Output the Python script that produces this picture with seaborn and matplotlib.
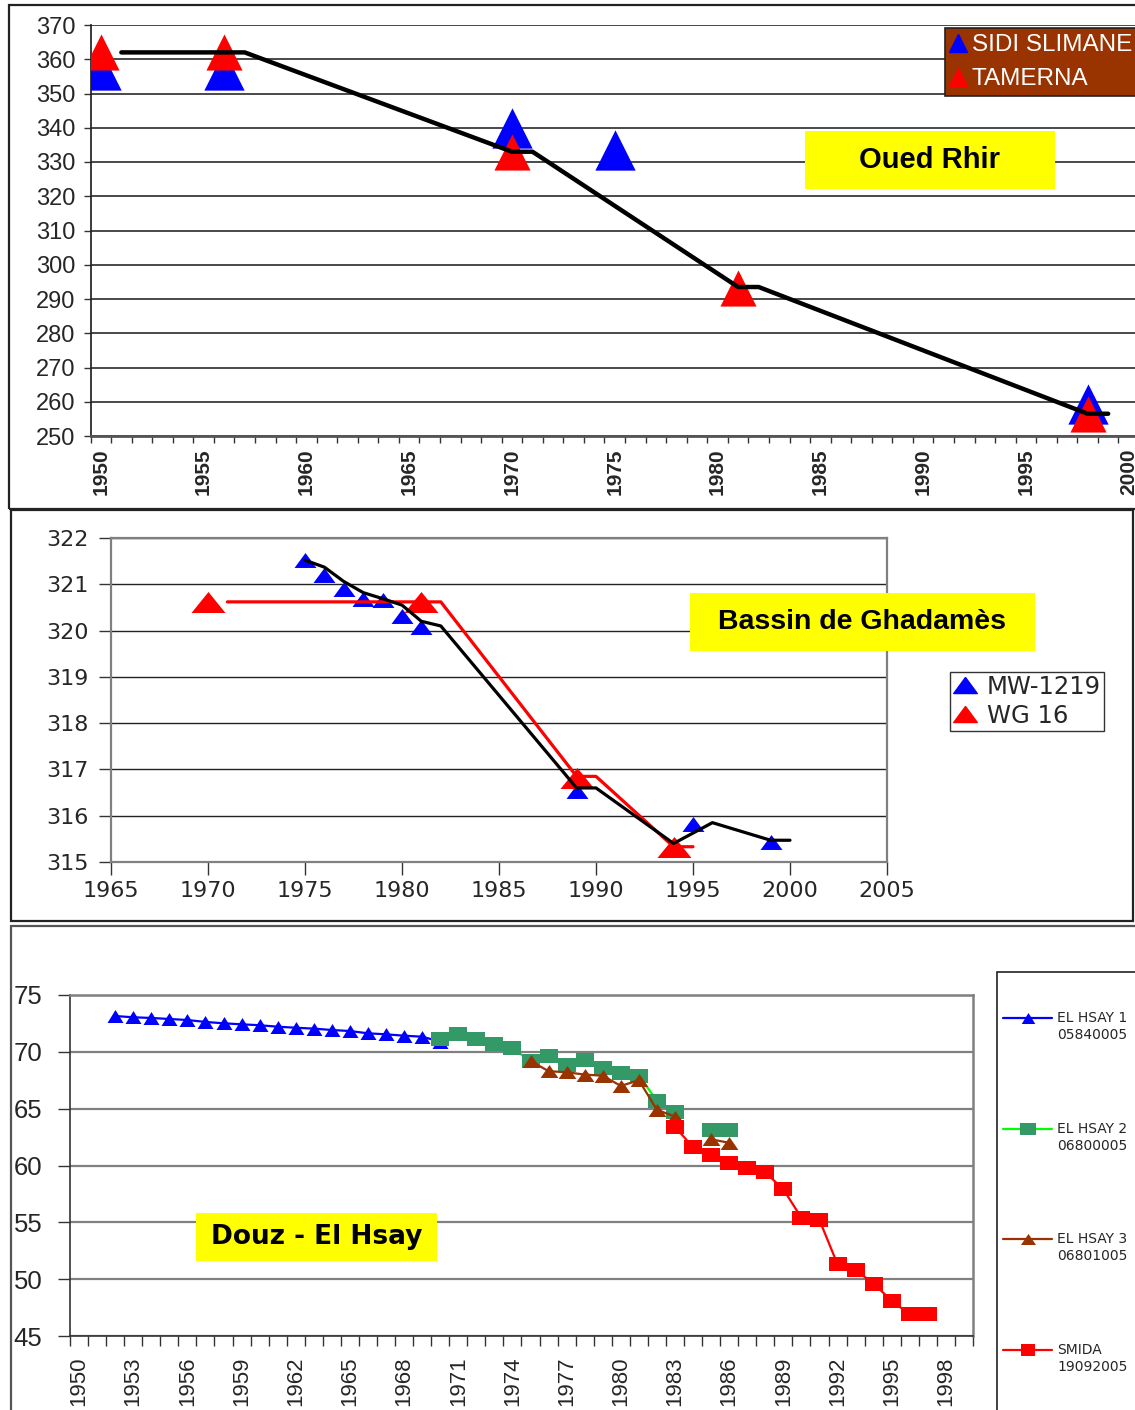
import numpy as np
import pandas as pd
import matplotlib
matplotlib.use("Agg")
import matplotlib.pyplot as plt
import seaborn as sns
from matplotlib.patches import Rectangle
from matplotlib.lines import Line2D
from matplotlib.ticker import FixedLocator, MultipleLocator

sns.set_theme(style="white")
plt.rcParams['font.family'] = ['Liberation Sans', 'DejaVu Sans']

# ---------------- Oued Rhir ----------------
rhir_sidi_years = [1950, 1956, 1970, 1975, 1998]
rhir_sidi_level = [357.0, 357.0, 339.9, 333.5, 259.3]
rhir_tam_years = [1950, 1956, 1970, 1981, 1998]
rhir_tam_level = [362.0, 362.0, 333.0, 293.2, 256.4]
rhir_trend_years = [1951, 1957, 1970, 1971, 1981, 1982, 1998, 1999]
rhir_trend_level = [362.0, 362.0, 333.0, 333.0, 293.5, 293.5, 256.5, 256.5]

# ---------------- Bassin de Ghadames ----------------
mw_years = [1975, 1976, 1977, 1978, 1979, 1980, 1981, 1989, 1995, 1999]
mw_level = [321.52, 321.19, 320.90, 320.68, 320.66, 320.32, 320.07, 316.54, 315.83, 315.43]
wg_years = [1970, 1981, 1989, 1994]
wg_level = [320.61, 320.61, 316.81, 315.33]
wg_trend_years = [1971, 1982, 1989, 1990, 1994, 1995]
wg_trend_level = [320.62, 320.62, 316.85, 316.85, 315.33, 315.33]
mw_trend_years = [1975, 1976, 1977, 1978, 1979, 1980, 1981, 1982, 1989, 1990, 1994, 1996, 1999, 2000]
mw_trend_level = [321.52, 321.37, 321.06, 320.82, 320.69, 320.55, 320.20, 320.10,
                  316.60, 316.60, 315.40, 315.85, 315.47, 315.47]

# ---------------- Douz - El Hsay ----------------
hsay1_years = list(range(1952, 1971))
hsay1_level = [73.15, 73.04, 72.98, 72.89, 72.80, 72.63, 72.51, 72.42, 72.34, 72.21,
               72.12, 72.04, 71.92, 71.83, 71.63, 71.54, 71.42, 71.33, 70.9]
hsay2_years = list(range(1970, 1987))
hsay2_level = [71.13, 71.6, 71.16, 70.7, 70.3, 69.2, 69.6, 68.8, 69.3, 68.6,
               68.1, 67.9, 65.7, 64.7, np.nan, 63.1, 63.1]
hsay3_years = list(range(1975, 1987))
hsay3_level = [69.2, 68.3, 68.2, 68.0, 67.9, 67.0, 67.5, 64.9, 64.3, np.nan, 62.3, 62.0]
smida_years = list(range(1983, 1998))
smida_level = [63.4, 61.6, 60.9, 60.2, 59.8, 59.4, 57.9, 55.4, 55.2, 51.3,
               50.8, 49.6, 48.1, 46.9, 46.9]

hsay_names = ["EL HSAY 1", "EL HSAY 2", "EL HSAY 3", "SMIDA"]
hsay_codes = ["05840005", "06800005", "06801005", "19092005"]

W, H = 1135, 1410
fig = plt.figure(figsize=(W / 100, H / 100), dpi=100)
fig.patch.set_facecolor("white")


def fbox(x0, y0, x1, y1):
    """Convert pixel box (top-left origin) to figure fraction [l, b, w, h]."""
    return [x0 / W, 1 - y1 / H, (x1 - x0) / W, (y1 - y0) / H]


def frame(x0, y0, x1, y1, color="#222222", lw=1.6):
    l, b, w, h = fbox(x0, y0, x1, y1)
    fig.patches.append(Rectangle((l, b), w, h, transform=fig.transFigure,
                                 fill=False, edgecolor=color, linewidth=lw, zorder=0))


def label_box(x0, y0, x1, y1, text, size, family=None):
    """Yellow title box with bold text centred in it."""
    l, b, w, h = fbox(x0, y0, x1, y1)
    fig.patches.append(Rectangle((l, b), w, h, transform=fig.transFigure,
                                 facecolor="#FFFF00", edgecolor="none", zorder=1))
    kw = {"family": family} if family else {}
    fig.text(l + w / 2, b + h / 2, text, ha="center", va="center", fontsize=size,
             fontweight="bold", color="black", zorder=2, **kw)


def series_df(years, values):
    df = pd.DataFrame({"year": years, "level": values})
    df["seg"] = df["level"].isna().cumsum()
    return df.dropna()


def tri_wide(r):
    return [(0, 1), (-r, -1), (r, -1), (0, 1)]


def rect_wide(r):
    return [(-r, -1), (r, -1), (r, 1), (-r, 1), (-r, -1)]


# panel frames
frame(9, 5, 1160, 509)
frame(11, 510, 1133, 921)
frame(11, 926, 1160, 1430, color="#555555")

# =============== Panel 1 : Oued Rhir ===============
ax1 = fig.add_axes(fbox(90.5, 25, 1139, 436))
df_sidi = pd.DataFrame({"year": rhir_sidi_years, "level": rhir_sidi_level})
df_tam = pd.DataFrame({"year": rhir_tam_years, "level": rhir_tam_level})
df_tr = pd.DataFrame({"year": rhir_trend_years, "level": rhir_trend_level})
sns.scatterplot(data=df_sidi, x="year", y="level", marker="^", color="#0000FF",
                s=29 ** 2, linewidth=0, ax=ax1, zorder=3, legend=False)
sns.scatterplot(data=df_tam, x="year", y="level", marker="^", color="#FF0000",
                s=26 ** 2, linewidth=0, ax=ax1, zorder=4, legend=False)
sns.lineplot(data=df_tr, x="year", y="level", color="black", linewidth=3.2,
             sort=False, estimator=None, ax=ax1, zorder=5)
ax1.set_xlim(1949.5, 2000.5)
ax1.set_ylim(250, 370)
ax1.yaxis.set_major_locator(MultipleLocator(10))
ax1.xaxis.set_major_locator(FixedLocator(list(range(1950, 2001, 5))))
ax1.xaxis.set_minor_locator(FixedLocator(list(np.arange(1949.5, 2001, 1.0))))
ax1.grid(axis="y", color="#3a3a3a", linewidth=1.3)
ax1.set_axisbelow(True)
for s in ["top", "right"]:
    ax1.spines[s].set_visible(False)
ax1.spines["left"].set_color("#222222")
ax1.spines["bottom"].set_color("#555555")
ax1.spines["bottom"].set_linewidth(2)
ax1.tick_params(axis="y", which="major", left=True, length=5, width=1, color="#333333",
                labelsize=17, pad=6)
ax1.tick_params(axis="x", which="major", bottom=False, labelsize=15, pad=3,
                labelrotation=90)
ax1.tick_params(axis="x", which="minor", bottom=True, length=5, width=1, color="#333333")
for t in ax1.get_xticklabels():
    t.set_fontweight("bold")
ax1.set_xlabel("")
ax1.set_ylabel("")
h_sidi = Line2D([], [], marker="^", color="#0000FF", linestyle="None", markersize=13)
h_tam = Line2D([], [], marker="^", color="#FF0000", linestyle="None", markersize=13)
leg1 = ax1.legend([h_sidi, h_tam], ["SIDI SLIMANE", "TAMERNA"], loc="upper left",
                  bbox_to_anchor=(945 / W, 1 - 28 / H), bbox_transform=fig.transFigure,
                  fontsize=17.5, frameon=True, fancybox=False, facecolor="#993300",
                  edgecolor="#222222", framealpha=1, labelcolor="white",
                  handlelength=0.6, handletextpad=0.25, borderpad=0.25,
                  labelspacing=0.5, borderaxespad=0)
leg1.get_frame().set_linewidth(1.2)
label_box(805, 131, 1055, 189, "Oued Rhir", 21)

# =============== Panel 2 : Bassin de Ghadames ===============
ax2 = fig.add_axes(fbox(111, 538, 887, 862))
df_mw = pd.DataFrame({"year": mw_years, "level": mw_level})
df_wg = pd.DataFrame({"year": wg_years, "level": wg_level})
df_wgt = pd.DataFrame({"year": wg_trend_years, "level": wg_trend_level})
df_mwt = pd.DataFrame({"year": mw_trend_years, "level": mw_trend_level})
sns.scatterplot(data=df_mw, x="year", y="level", marker=tri_wide(1.47), color="#0000FF",
                s=15.8 ** 2, linewidth=0, ax=ax2, zorder=3, legend=False)
sns.scatterplot(data=df_wg, x="year", y="level", marker=tri_wide(1.62), color="#FF0000",
                s=24.5 ** 2, linewidth=0, ax=ax2, zorder=4, legend=False)
sns.lineplot(data=df_wgt, x="year", y="level", color="#FF0000", linewidth=2.3,
             sort=False, estimator=None, ax=ax2, zorder=5)
sns.lineplot(data=df_mwt, x="year", y="level", color="black", linewidth=2.3,
             sort=False, estimator=None, ax=ax2, zorder=6)
ax2.set_xlim(1965, 2005)
ax2.set_ylim(315, 322)
ax2.xaxis.set_major_locator(MultipleLocator(5))
ax2.yaxis.set_major_locator(MultipleLocator(1))
ax2.grid(axis="y", color="#222222", linewidth=1.0)
ax2.set_axisbelow(True)
for s in ax2.spines.values():
    s.set_color("#808080")
    s.set_linewidth(1.6)
ax2.tick_params(axis="both", which="major", left=True, bottom=True, length=9, width=1,
                color="#333333", labelsize=16)
ax2.tick_params(axis="x", pad=5)
ax2.tick_params(axis="y", pad=7)
for t in ax2.get_xticklabels() + ax2.get_yticklabels():
    t.set_fontfamily("DejaVu Sans")
ax2.set_xlabel("")
ax2.set_ylabel("")
h_mw = Line2D([], [], marker=tri_wide(1.47), color="#0000FF", linestyle="None", markersize=17)
h_wg = Line2D([], [], marker=tri_wide(1.47), color="#FF0000", linestyle="None", markersize=17)
leg2 = ax2.legend([h_mw, h_wg], ["MW-1219", "WG 16"], loc="upper left",
                  bbox_to_anchor=(950 / W, 1 - 672 / H), bbox_transform=fig.transFigure,
                  prop={"family": "DejaVu Sans", "size": 17.5}, frameon=True, fancybox=False,
                  facecolor="white", edgecolor="#333333", framealpha=1,
                  handlelength=1.0, handletextpad=0.4, borderpad=0.12,
                  labelspacing=0.2, borderaxespad=0)
leg2.get_frame().set_linewidth(1.0)
label_box(690, 593, 1035, 651, "Bassin de Ghadamès", 20.5)

# =============== Panel 3 : Douz - El Hsay ===============
ax3 = fig.add_axes(fbox(70, 995, 973, 1336))
colors3 = [("#0000FF", "#0000FF"), ("#00FF00", "#339966"),
           ("#993300", "#993300"), ("#FF0000", "#FF0000")]
series3 = [
    (hsay1_years, hsay1_level, tri_wide(1.23), 11.5),
    (hsay2_years, hsay2_level, rect_wide(1.29), 13.2),
    (hsay3_years, hsay3_level, tri_wide(1.37), 12.8),
    (smida_years, smida_level, rect_wide(1.17), 12.6),
]
for i, ((yrs, lv, mk, sz), (lc, mc)) in enumerate(zip(series3, colors3)):
    d = series_df(yrs, lv)
    sns.lineplot(data=d, x="year", y="level", units="seg", estimator=None, sort=False,
                 color=lc, linewidth=1.6, ax=ax3, zorder=3 + 2 * i)
    sns.scatterplot(data=d, x="year", y="level", marker=mk, color=mc, s=sz ** 2,
                    linewidth=0, ax=ax3, zorder=4 + 2 * i, legend=False)
ax3.set_xlim(1949.5, 1999.5)
ax3.set_ylim(45, 75)
ax3.yaxis.set_major_locator(MultipleLocator(5))
ax3.xaxis.set_major_locator(FixedLocator(list(range(1950, 1999, 3))))
ax3.xaxis.set_minor_locator(FixedLocator(list(np.arange(1949.5, 2000, 1.0))))
ax3.grid(axis="y", color="#808080", linewidth=1.6)
ax3.set_axisbelow(True)
for s in ax3.spines.values():
    s.set_color("#808080")
    s.set_linewidth(1.8)
ax3.spines["left"].set_color("#333333")
ax3.spines["left"].set_linewidth(1.2)
ax3.spines["bottom"].set_color("#333333")
ax3.spines["bottom"].set_linewidth(1.2)
ax3.tick_params(axis="y", which="major", left=True, length=9, width=1, color="#333333",
                labelsize=18.5, pad=11)
ax3.tick_params(axis="x", which="major", bottom=False, labelsize=16, pad=9,
                labelrotation=90)
ax3.tick_params(axis="x", which="minor", bottom=True, length=7, width=1, color="#333333")
ax3.set_xlabel("")
ax3.set_ylabel("")
label_box(196, 1213, 437, 1261, "Douz - El Hsay", 19, family="DejaVu Sans")

# legend panel for the Douz wells
axl = fig.add_axes(fbox(997, 972, 1135, 1410))
axl.set_xlim(997, 1135)
axl.set_ylim(1410, 972)
axl.axis("off")
fig.patches.append(Rectangle((997 / W, -0.05), 0.2, 1 - 972 / H + 0.05,
                             transform=fig.transFigure, fill=False,
                             edgecolor="#222222", linewidth=1.2, zorder=0))
leg_y = [1018, 1129, 1239, 1350]
for (yrs, lv, mk, sz), (lc, mc), name, code, yy in zip(series3, colors3, hsay_names,
                                                       hsay_codes, leg_y):
    d = pd.DataFrame({"x": [1003, 1052], "y": [yy, yy]})
    sns.lineplot(data=d, x="x", y="y", color=lc, linewidth=1.6, ax=axl, estimator=None)
    sns.scatterplot(x=[1028], y=[yy], marker=mk, color=mc, s=(sz * 0.85) ** 2,
                    linewidth=0, ax=axl, legend=False, zorder=5)
    axl.text(1057, yy, name, ha="left", va="center", fontsize=10, family="DejaVu Sans")
    axl.text(1057, yy + 17, code, ha="left", va="center", fontsize=10,
             family="DejaVu Sans")
axl.set_xlabel("")
axl.set_ylabel("")

fig.savefig("out.png", dpi=100, facecolor="white")
